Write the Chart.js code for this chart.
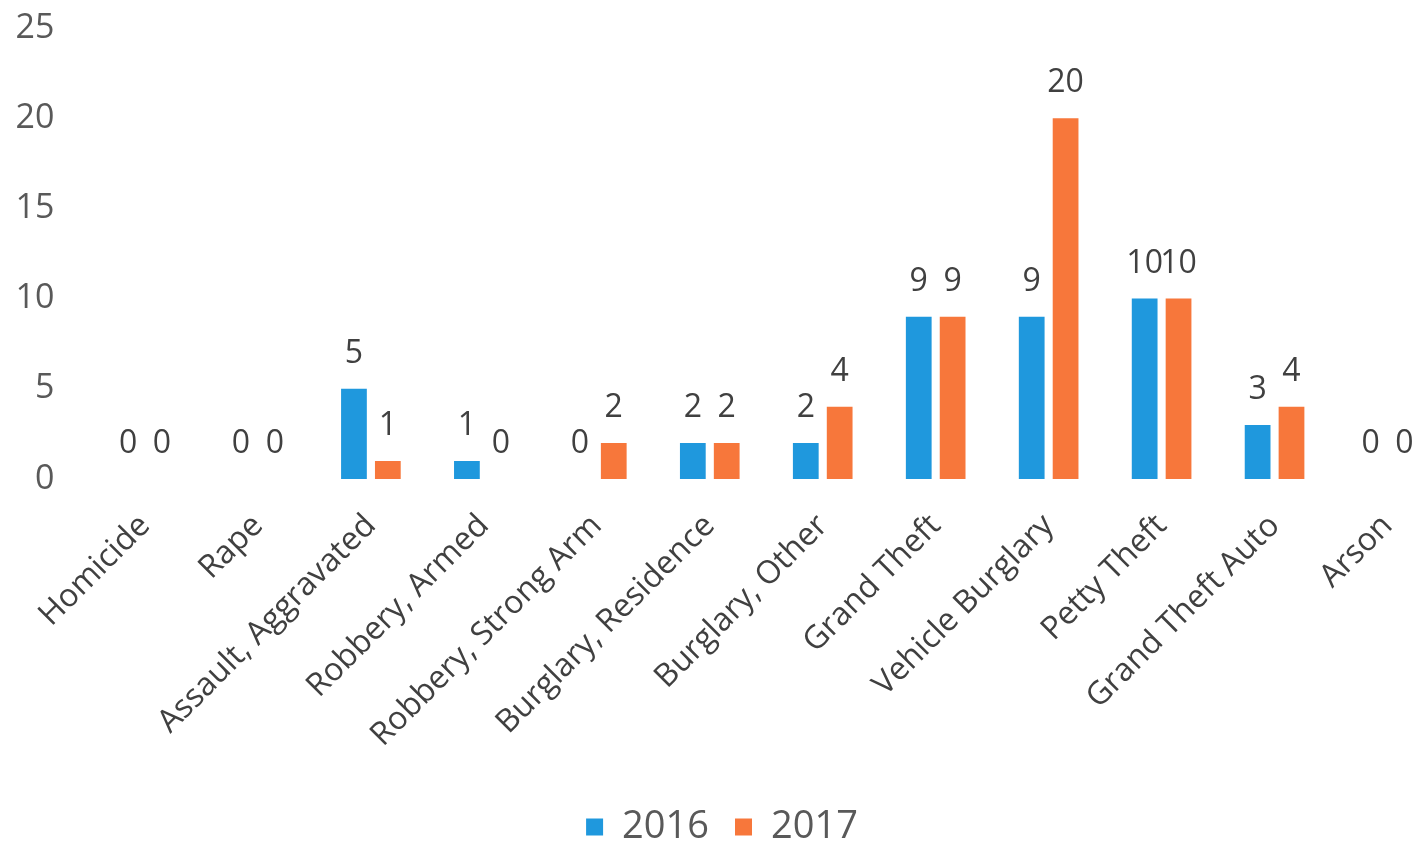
<!DOCTYPE html>
<html>
<head>
<meta charset="utf-8">
<script src="https://cdn.jsdelivr.net/npm/chart.js@4"></script>
<style>
  html, body { margin: 0; padding: 0; background: #fff; overflow: hidden; }
  #wrap { width: 1488px; height: 842px; }
</style>
</head>
<body>
<div id="wrap"><canvas id="crime-chart" width="1488" height="842"></canvas></div>
<script>
var categories = ['Homicide', 'Rape', 'Assault, Aggravated', 'Robbery, Armed', 'Robbery, Strong Arm',
  'Burglary, Residence', 'Burglary, Other', 'Grand Theft', 'Vehicle Burglary', 'Petty Theft',
  'Grand Theft Auto', 'Arson']
var values2016 = [0, 0, 5, 1, 0, 2, 2, 9, 9, 10, 3, 0]
var values2017 = [0, 0, 1, 0, 2, 2, 4, 9, 20, 10, 4, 0]
var yTicks = [0, 5, 10, 15, 20, 25]

// draws the number above each bar
var barValues = {
  id: 'barValues',
  afterDatasetsDraw: function (chart) {
    var ctx = chart.ctx
    ctx.save()
    ctx.font = '32px "Open Sans"'
    ctx.fillStyle = '#404040'
    ctx.textAlign = 'center'
    ctx.textBaseline = 'middle'
    chart.data.datasets.forEach(function (ds, i) {
      chart.getDatasetMeta(i).data.forEach(function (bar, j) {
        ctx.fillText(String(ds.data[j]), bar.x, bar.y - 35)
      })
    })
    ctx.restore()
  }
}

var el = document.getElementById('crime-chart')
var chart = new Chart(el, {
  type: 'bar',
  data: {
    labels: categories,
    datasets: [{
      label: '2016',
      data: values2016,
      backgroundColor: '#1f98dd',
      categoryPercentage: 0.6,
      barPercentage: 0.76
    }, {
      label: '2017',
      data: values2017,
      backgroundColor: '#f7773b',
      categoryPercentage: 0.6,
      barPercentage: 0.76
    }]
  },
  options: {
    responsive: false,
    animation: false,
    devicePixelRatio: 1,
    layout: { padding: { left: 0, right: 44, top: 28, bottom: -14 } },
    plugins: {
      tooltip: { enabled: false },
      legend: {
        position: 'bottom',
        labels: {
          font: { family: 'Open Sans', size: 38 },
          color: '#595959',
          boxWidth: 17,
          boxHeight: 17,
          padding: 26
        }
      }
    },
    scales: {
      y: {
        min: 0,
        max: 25,
        afterBuildTicks: function (scale) {
          scale.ticks = yTicks.map(function (v) { return { value: v } })
        },
        afterFit: function (scale) {
          scale.width = 88.5
          scale.paddingTop = 0
          scale.paddingBottom = 0
        },
        grid: { display: false },
        border: { display: false },
        ticks: {
          font: { family: 'Open Sans', size: 34 },
          color: '#595959',
          padding: 26
        }
      },
      x: {
        grid: { display: false },
        border: { display: false },
        afterFit: function (scale) { scale.height = 303 },
        ticks: {
          font: { family: 'Open Sans', size: 32 },
          color: '#404040',
          maxRotation: 45,
          minRotation: 45,
          padding: 20
        }
      }
    }
  },
  plugins: [barValues]
})
</script>
</body>
</html>
